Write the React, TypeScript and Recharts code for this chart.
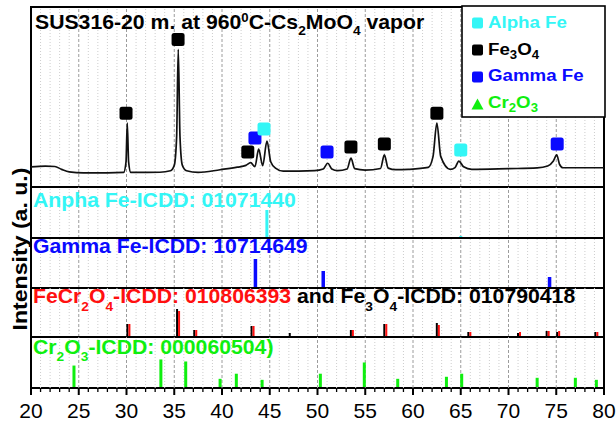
import React from "react";
import {
  ComposedChart, Line, Scatter, XAxis, YAxis, ReferenceLine, ReferenceArea,
} from "recharts";

// ─────────────────────────────────────────
// Data (2θ in degrees, intensity in arbitrary units)
// ─────────────────────────────────────────
const MAJOR_TICKS = [20, 25, 30, 35, 40, 45, 50, 55, 60, 65, 70, 75, 80];
const MINOR_TICKS = Array.from({ length: 61 }, (_, k) => 20 + k);

const spectrumRaw: [number, number][] = [
  [20, 11.2], [21.5, 11.6], [22.5, 11.4], [23.2, 9.8], [24.0, 8.4], [25.5, 7.9],
  [28, 7.9], [29.7, 8.1], [29.95, 14], [30.08, 35.5], [30.22, 14], [30.45, 8.1],
  [33.5, 8.2], [34.6, 9], [35.0, 12], [35.25, 28], [35.42, 76.5], [35.6, 28],
  [35.85, 12], [36.3, 9], [37.5, 8.1], [39.8, 9.6], [41.6, 11], [42.5, 12],
  [43.0, 13.5], [43.45, 11.3], [43.84, 21], [44.26, 11.8], [44.71, 25.5], [45.1, 14],
  [45.6, 10.5], [46.4, 8.8], [49.7, 9.1], [50.6, 10], [51.07, 13.2], [51.5, 10],
  [52.1, 9.1], [53.1, 10], [53.5, 16], [53.9, 10.2], [55, 9.4], [56.6, 10.3],
  [57.0, 17.8], [57.4, 10.5], [58.2, 9.6], [59.5, 9.8], [61.6, 10.9], [62.1, 17],
  [62.5, 35.5], [62.9, 17], [63.9, 9.8], [64.4, 10.8], [64.8, 14.4], [65.3, 11.2],
  [66.15, 9.8], [70, 10.2], [73, 10.6], [74.1, 11.7], [74.7, 14.5], [75.05, 17.8],
  [75.35, 12.5], [75.7, 10.7], [80, 10.7],
];

// peak markers in the measured pattern
const alphaMarksRaw: [number, number][] = [[44.4, 32.2], [65.0, 20.6]];
const fe3o4MarksRaw: [number, number][] = [
  [29.95, 41], [35.4, 82], [42.7, 19.4], [53.5, 22.2], [57.0, 23.9], [62.5, 41],
];
const gammaMarksRaw: [number, number][] = [[43.45, 27.2], [51.0, 19.4], [75.1, 23.9]];

// ICDD reference sticks (relative intensity)
const alphaRefRaw: [number, number][] = [[44.7, 28], [65.0, 2]];
const gammaRefRaw: [number, number][] = [[43.5, 29], [50.6, 17], [74.3, 11]];
const fecr2o4RefRaw: [number, number][] = [
  [30.2, 13], [35.4, 26], [37.2, 7], [43.2, 11], [53.6, 7], [57.1, 13],
  [62.6, 12], [65.9, 5], [71.1, 5], [74.1, 6], [75.2, 6], [79.2, 5],
];
const fe3o4RefRaw: [number, number][] = [
  [30.2, 13], [35.4, 28], [37.2, 7], [43.2, 11], [47.2, 4], [53.6, 7], [57.1, 13],
  [62.6, 14], [65.9, 5], [71.1, 4], [74.1, 6], [75.2, 5], [79.2, 5],
];
const cr2o3RefRaw: [number, number][] = [
  [24.5, 22], [33.6, 28], [36.2, 26], [39.8, 9], [41.5, 14], [44.2, 8], [50.3, 14],
  [54.9, 25], [58.4, 9], [63.5, 11], [65.1, 14], [73.0, 10], [77.0, 10], [79.2, 8],
];

const pts = (raw: [number, number][]) => raw.map(([t, i]) => ({ t, i }));

// ─────────────────────────────────────────
// Styles
// ─────────────────────────────────────────
const FONT = "'Liberation Sans', Arial, sans-serif";
const CYAN = "#33f6f6";
const BLUE = "#0a0aff";
const GREEN = "#0fef0f";
const RED = "#ff1010";
const LEFT = 31;
const RIGHT = 12;
const W = 616;

function gridLines() {
  return [
    ...MINOR_TICKS.filter((v) => v % 5 !== 0).map((v) => (
      <ReferenceLine key={`m${v}`} x={v} stroke="#cdcdcd" strokeDasharray="1 2" strokeWidth={1} />
    )),
    ...MAJOR_TICKS.slice(1, -1).map((v) => (
      <ReferenceLine key={`M${v}`} x={v} stroke="#9c9c9c" strokeDasharray="3 2" strokeWidth={1} />
    )),
  ];
}

const square = (color: string, size = 13) => (p: any) => (
  <rect x={p.cx - size / 2} y={p.cy - size / 2} width={size} height={size} rx={2.5} fill={color} />
);

const stick = (color: string, bottom: number, w: number, dx = 0) => (p: any) => (
  <rect x={p.cx - w / 2 + dx} y={p.cy} width={w} height={Math.max(bottom - p.cy, 0)} fill={color} />
);

function AxisTick(p: any) {
  const v = p.payload.value;
  const major = v % 5 === 0;
  return (
    <g>
      <line x1={p.x} x2={p.x} y1={p.y} y2={p.y + (major ? 7 : 4)} stroke="#000" strokeWidth={major ? 2 : 1.3} />
      {major && (
        <text x={p.x} y={p.y + 30} textAnchor="middle" fontSize={21} fontFamily={FONT} fill="#000">
          {v}
        </text>
      )}
    </g>
  );
}

function Panel({
  top, plotH, yMax, axis = false, children,
}: { top: number; plotH: number; yMax: number; axis?: boolean; children?: React.ReactNode }) {
  const axisH = axis ? 36 : 0;
  return (
    <div style={{ position: "absolute", left: 0, top }}>
      <ComposedChart
        width={W}
        height={plotH + 2 + axisH}
        margin={{ top: 1, right: RIGHT, left: LEFT, bottom: axis ? 0 : 1 }}
      >
        <XAxis
          type="number" dataKey="t" domain={[20, 80]} allowDataOverflow
          ticks={MINOR_TICKS} interval={0} hide={!axis} height={axisH}
          tickSize={0} tickMargin={0} tickLine={false} axisLine={false} tick={<AxisTick />}
        />
        <YAxis type="number" dataKey="i" domain={[0, yMax]} allowDataOverflow hide />
        {gridLines()}
        {children}
        <ReferenceArea x1={20} x2={80} y1={0} y2={yMax} fill="none" stroke="#000" strokeWidth={2} ifOverflow="visible" />
      </ComposedChart>
    </div>
  );
}

function BoldText({
  x, y, size, color = "#000", children,
}: { x: number; y: number; size: number; color?: string; children: React.ReactNode }) {
  return (
    <g transform={`translate(${x},${y}) scale(1.1,1)`}>
      <text x={0} y={0} fontSize={size} fontWeight="bold" fill={color} fontFamily={FONT}>
        {children}
      </text>
    </g>
  );
}

// ─────────────────────────────────────────
// App
// ─────────────────────────────────────────
export default function App() {
  const S = 19.3;
  return (
    <div style={{ position: "relative", width: 616, height: 423, background: "#fff", fontFamily: FONT }}>
      <style>{"body{margin:0}"}</style>

      {/* measured pattern */}
      <Panel top={6} plotH={180} yMax={100}>
        <Line data={pts(spectrumRaw)} dataKey="i" type="monotone" stroke="#111" strokeWidth={1.7}
          dot={false} isAnimationActive={false} />
        <Scatter data={pts(fe3o4MarksRaw)} dataKey="i" shape={square("#000")} isAnimationActive={false} />
        <Scatter data={pts(gammaMarksRaw)} dataKey="i" shape={square(BLUE)} isAnimationActive={false} />
        <Scatter data={pts(alphaMarksRaw)} dataKey="i" shape={square(CYAN)} isAnimationActive={false} />
      </Panel>

      {/* Alpha Fe reference */}
      <Panel top={186} plotH={51} yMax={51}>
        <Scatter data={pts(alphaRefRaw)} dataKey="i" shape={stick(CYAN, 52, 3)} isAnimationActive={false} />
      </Panel>

      {/* Gamma Fe reference */}
      <Panel top={237} plotH={50} yMax={50}>
        <Scatter data={pts(gammaRefRaw)} dataKey="i" shape={stick(BLUE, 51, 3.5)} isAnimationActive={false} />
      </Panel>

      {/* FeCr2O4 + Fe3O4 reference */}
      <Panel top={287} plotH={49} yMax={49}>
        <Scatter data={pts(fe3o4RefRaw)} dataKey="i" shape={stick("#000", 50, 2, -1)} isAnimationActive={false} />
        <Scatter data={pts(fecr2o4RefRaw)} dataKey="i" shape={stick(RED, 50, 2, 1)} isAnimationActive={false} />
      </Panel>

      {/* Cr2O3 reference + x axis */}
      <Panel top={336} plotH={50} yMax={50} axis>
        <Scatter data={pts(cr2o3RefRaw)} dataKey="i" shape={stick(GREEN, 51, 3)} isAnimationActive={false} />
      </Panel>

      {/* texts, legend */}
      <svg width={616} height={423} style={{ position: "absolute", left: 0, top: 0, pointerEvents: "none" }}>
        <BoldText x={35} y={29} size={S}>
          SUS316-20 m. at 960<tspan dy={-7} fontSize={12}>0</tspan>
          <tspan dy={7}>C-Cs</tspan>
          <tspan dy={6} fontSize={12.5}>2</tspan>
          <tspan dy={-6}>MoO</tspan>
          <tspan dy={6} fontSize={12.5}>4</tspan>
          <tspan dy={-6}>{" vapor"}</tspan>
        </BoldText>

        <rect x={462} y={6} width={143} height={111} fill="#fff" stroke="#000" strokeWidth={1.6} />
        <rect x={472} y={17.5} width={11} height={11} rx={2} fill={CYAN} />
        <BoldText x={488} y={28} size={17} color={CYAN}>Alpha Fe</BoldText>
        <rect x={472} y={44.5} width={11} height={11} rx={2} fill="#000" />
        <BoldText x={488} y={55} size={17}>
          Fe<tspan dy={4} fontSize={12}>3</tspan><tspan dy={-4}>O</tspan><tspan dy={4} fontSize={12}>4</tspan>
        </BoldText>
        <rect x={472} y={71.5} width={11} height={11} rx={2} fill={BLUE} />
        <BoldText x={488} y={81} size={17} color={BLUE}>Gamma Fe</BoldText>
        <polygon points="471.5,109.5 477.5,98.5 483.5,109.5" fill={GREEN} />
        <BoldText x={488} y={108} size={17} color={GREEN}>
          Cr<tspan dy={4} fontSize={12}>2</tspan><tspan dy={-4}>O</tspan><tspan dy={4} fontSize={12}>3</tspan>
        </BoldText>

        <BoldText x={33} y={207} size={S} color={CYAN}>Anpha Fe-ICDD: 01071440</BoldText>
        <BoldText x={33} y={253} size={S} color={BLUE}>Gamma Fe-ICDD: 10714649</BoldText>
        <BoldText x={33} y={303} size={S} color={RED}>
          FeCr<tspan dy={8} fontSize={12.5}>2</tspan><tspan dy={-8}>O</tspan>
          <tspan dy={8} fontSize={12.5}>4</tspan><tspan dy={-8}>-ICDD: 010806393</tspan>
          <tspan fill="#000">{" and Fe"}</tspan>
          <tspan fill="#000" dy={8} fontSize={12.5}>3</tspan><tspan fill="#000" dy={-8}>O</tspan>
          <tspan fill="#000" dy={8} fontSize={12.5}>4</tspan><tspan fill="#000" dy={-8}>-ICDD: 010790418</tspan>
        </BoldText>
        <BoldText x={33} y={354} size={S} color={GREEN}>
          Cr<tspan dy={7} fontSize={12.5}>2</tspan><tspan dy={-7}>O</tspan>
          <tspan dy={7} fontSize={12.5}>3</tspan><tspan dy={-7}>-ICDD: 000060504)</tspan>
        </BoldText>

        <g transform="translate(27,249) rotate(-90) scale(1.1,1)">
          <text x={0} y={0} textAnchor="middle" fontSize={21} fontWeight="bold" fontFamily={FONT} fill="#000">
            Intensity (a. u.)
          </text>
        </g>
      </svg>
    </div>
  );
}
